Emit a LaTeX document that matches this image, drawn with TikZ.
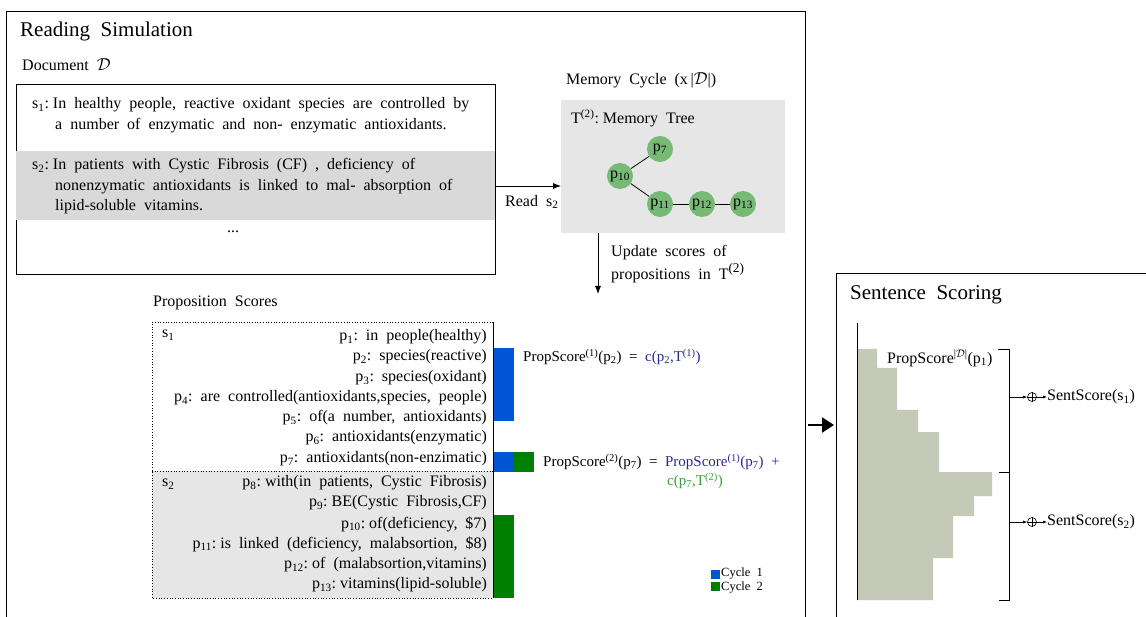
\documentclass[tikz,border=0pt]{standalone}
\usepackage{fontspec}
\setmainfont{Liberation Serif}
\usetikzlibrary{arrows.meta}
\definecolor{bandgray}{RGB}{217,217,217}
\definecolor{treegray}{RGB}{230,230,230}
\definecolor{nodegreen}{RGB}{118,186,118}
\definecolor{cycblue}{RGB}{0,85,212}
\definecolor{cycgreen}{RGB}{0,128,0}
\definecolor{navy}{RGB}{40,40,150}
\definecolor{litgreen}{RGB}{60,160,60}
\definecolor{histgray}{RGB}{197,201,183}
\newcommand{\sbs}[1]{\textsubscript{#1}}
\newcommand{\sps}[1]{\textsuperscript{#1}}
\begin{document}
\begin{tikzpicture}[x=1pt,y=-1pt,
  base/.style={inner sep=0pt, font=\fontsize{16}{19}\selectfont},
  lt/.style={base, anchor=west},
  rt/.style={base, anchor=east},
  fm/.style={lt, font=\fontsize{15}{18}\selectfont},
  title/.style={inner sep=0pt, anchor=west, font=\fontsize{21}{24}\selectfont},
  tnode/.style={circle, fill=nodegreen, minimum size=26pt, inner sep=0pt, font=\fontsize{16}{19}\selectfont},
  arr/.style={-{Latex[length=8pt,width=6pt]}, line width=0.8pt},
  small/.style={-{Latex[length=4pt,width=3pt]}, line width=0.6pt}]
\useasboundingbox (0,0) rectangle (1146,617);
\fill[white] (0,0) rectangle (1146,617);
% Reading simulation frame
\draw[line width=0.8pt] (6,620) -- (6,11) -- (805,11) -- (805,620);
\node[title] (rstitle) at (20,31) {Reading\ \ Simulation};
\node[lt] (doclabel) at (22,65) {Document\ \ $\mathcal{D}$};
% document box
\node[draw, line width=0.8pt, minimum width=479pt, minimum height=190pt, anchor=north west, inner sep=0pt] (doc) at (16,84) {};
\fill[bandgray] (16.4,151) rectangle (494.6,220);
\node[lt] (s1a) at (32,105) {s\sbs{1}:\ In\ \ healthy\ \ people,\ \ reactive\ \ oxidant\ \ species\ \ are\ \ controlled\ \ by};
\node[lt] (s1b) at (55,126) {a\ \ number\ \ of\ \ enzymatic\ \ and\ \ non-\ \ enzymatic\ \ antioxidants.};
\node[lt] (s2a) at (32,166) {s\sbs{2}:\ In\ \ patients\ \ with\ \ Cystic\ \ Fibrosis\ \ (CF)\ \ ,\ \ deficiency\ \ of};
\node[lt] (s2b) at (55,187) {nonenzymatic\ \ antioxidants\ \ is\ \ linked\ \ to\ \ mal-\ \ absorption\ \ of};
\node[lt] (s2c) at (55,207) {lipid-soluble\ \ vitamins.};
\node[base] (dots) at (233,232) {...};
% memory cycle
\node[lt] (mclabel) at (566,80) {Memory\ \ Cycle\ \ (x\,|$\mathcal{D}$|)};
\node[fill=treegray, minimum width=224pt, minimum height=133pt, anchor=north west, inner sep=0pt] (mem) at (561,100) {};
\node[lt] (mtlabel) at (571,118) {T\sps{(2)}:\ Memory\ \ Tree};
\node[tnode] (p7) at (660,149) {p\sbs{7}};
\node[tnode] (p10) at (620,176) {p\sbs{10}};
\node[tnode] (p11) at (660,204) {p\sbs{11}};
\node[tnode] (p12) at (702,204) {p\sbs{12}};
\node[tnode] (p13) at (743,204) {p\sbs{13}};
\draw[line width=0.8pt] (p10) -- (p7);
\draw[line width=0.8pt] (p10) -- (p11);
\draw[line width=0.8pt] (p11) -- (p12);
\draw[line width=0.8pt] (p12) -- (p13);
% read arrow
\coordinate (ry) at (0,186);
\draw[arr] (doc.east |- ry) -- (mem.west |- ry);
\node[lt] (readlbl) at (505,202) {Read\ \ s\sbs{2}};
% update arrow
\coordinate (ux) at (598,0);
\coordinate (uend) at (598,294);
\draw[arr] (mem.south -| ux) -- (uend);
\node[lt] (up1) at (611,253) {Update\ \ scores\ \ of};
\node[lt] (up2) at (611,273) {propositions\ \ in\ \ T{\fontsize{19}{19}\selectfont\sps{(2)}}};
% proposition scores
\node[lt] (pslabel) at (153,303) {Proposition\ \ Scores};
\fill[treegray] (152,471) rectangle (493,598);
\draw[dotted, line width=0.7pt] (493,322) -- (152,322) -- (152,598) -- (493,598);
\draw[dotted, line width=0.7pt] (152,471) -- (493,471);
\draw[line width=0.8pt] (493,322) -- (493,598);
\node[lt] (ps1) at (162,335) {s\sbs{1}};
\node[lt] (ps2) at (162,484) {s\sbs{2}};
\node[rt] (q1) at (487,337) {p\sbs{1}:\ \ in\ \ people(healthy)};
\node[rt] (q2) at (487,357) {p\sbs{2}:\ \ species(reactive)};
\node[rt] (q3) at (487,378) {p\sbs{3}:\ \ species(oxidant)};
\node[rt] (q4) at (487,398) {p\sbs{4}:\ \ are\ \ controlled(antioxidants,species,\ \ people)};
\node[rt] (q5) at (487,418) {p\sbs{5}:\ \ of(a\ \ number,\ \ antioxidants)};
\node[rt] (q6) at (487,438) {p\sbs{6}:\ \ antioxidants(enzymatic)};
\node[rt] (q7) at (487,459) {p\sbs{7}:\ \ antioxidants(non-enzimatic)};
\node[rt] (q8) at (487,483) {p\sbs{8}:\ with(in\ \ patients,\ \ Cystic\ \ Fibrosis)};
\node[rt] (q9) at (487,503) {p\sbs{9}:\ BE(Cystic\ \ Fibrosis,CF)};
\node[rt] (q10) at (487,524) {p\sbs{10}:\ of(deficiency,\ \ \$7)};
\node[rt] (q11) at (487,544) {p\sbs{11}:\ is\ \ linked\ \ (deficiency,\ \ malabsortion,\ \ \$8)};
\node[rt] (q12) at (487,565) {p\sbs{12}:\ of\ \ (malabsortion,vitamins)};
\node[rt] (q13) at (487,585) {p\sbs{13}:\ vitamins(lipid-soluble)};
% bars
\fill[cycblue] (494,348) rectangle (514,421);
\fill[cycblue] (494,452) rectangle (514,472);
\fill[cycgreen] (514,452) rectangle (534,472);
\fill[cycgreen] (494,515) rectangle (514,598);
\node[fm] (f1) at (523,357) {PropScore\sps{(1)}(p\sbs{2})\ \ =\ \ \textcolor{navy}{c(p\sbs{2},T\sps{(1)})}};
\node[fm] (f2) at (543,462) {PropScore\sps{(2)}(p\sbs{7})\ \ =\ \ \textcolor{navy}{PropScore\sps{(1)}(p\sbs{7})\ \ +}};
\node[fm, text=litgreen] (f3) at (667,481) {c(p\sbs{7},T\sps{(2)})};
% legend
\fill[cycblue] (711,570) rectangle (720,579);
\fill[cycgreen] (711,582) rectangle (720,591);
\node[lt, font=\fontsize{12.5}{13}\selectfont] (lg1) at (721,574) {Cycle\ \ 1};
\node[lt, font=\fontsize{12.5}{13}\selectfont] (lg2) at (721,588) {Cycle\ \ 2};
% big arrow
\coordinate (ba) at (808,425);
\coordinate (bb) at (834,425);
\draw[line width=2.5pt, -{Triangle[length=12pt,width=15pt]}] (ba) -- (bb);
% sentence scoring
\draw[line width=0.8pt] (836,620) -- (836,273) -- (1150,273);
\node[title] (sstitle) at (850,295) {Sentence\ \ Scoring};
\fill[histgray] (857,349) -- (877,349) -- (877,368) -- (897,368) -- (897,410) -- (918,410) -- (918,432) -- (939,432) -- (939,472) -- (992,472) -- (992,496) -- (974,496) -- (974,516) -- (953,516) -- (953,558) -- (933,558) -- (933,600) -- (857,600) -- cycle;
\draw[line width=0.8pt] (857,323) -- (857,600);
\node[lt] (ps) at (887,358) {PropScore\sps{|$\mathcal{D}$|}(p\sbs{1})};
\draw[line width=0.8pt] (998,349) -- (1009,349) -- (1009,600) -- (999,600);
\draw[line width=0.8pt] (999,472) -- (1009,472);
\foreach \yy/\nm in {397/1,522/2}{
  \coordinate (b\nm) at (1009,\yy);
  \node[circle, draw, line width=0.6pt, minimum size=9pt, inner sep=0pt] (c\nm) at (1032,\yy) {};
  \draw[line width=0.6pt] (c\nm.north) -- (c\nm.south) (c\nm.west) -- (c\nm.east);
  \draw[small] (b\nm) -- (c\nm.west);
  \node[lt] (ss\nm) at (1047,\yy) {SentScore(s\sbs{\nm})};
  \draw[small] (c\nm.east) -- (ss\nm.west);
}
\end{tikzpicture}
\end{document}
